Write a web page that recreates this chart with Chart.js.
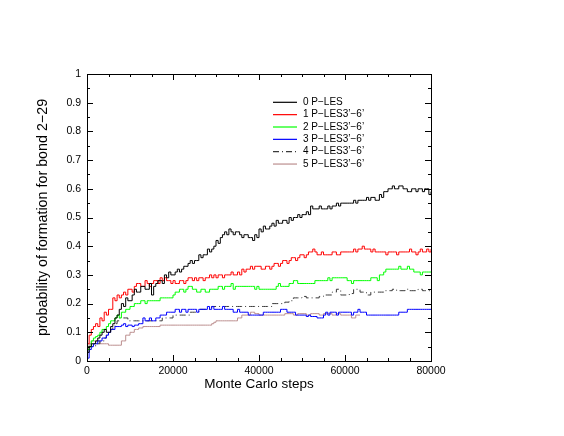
<!DOCTYPE html>
<html>
<head>
<meta charset="utf-8">
<script src="https://cdn.jsdelivr.net/npm/chart.js@4.4.1/dist/chart.umd.min.js"></script>
<style>
  html, body { margin: 0; padding: 0; background: #fff; }
  #wrap { width: 564px; height: 436px; }
</style>
</head>
<body>
<div id="wrap"><canvas id="c" width="564" height="436"></canvas></div>
<script>
const steps = [
  0,500,1000,1500,2000,2500,3000,3500,4000,4500,5000,5500,6000,6500,7000,7500,8000,8500,9000,9500,
  10000,10500,11000,11500,12000,12500,13000,13500,14000,14500,15000,15500,16000,16500,17000,17500,18000,18500,19000,19500,
  20000,20500,21000,21500,22000,22500,23000,23500,24000,24500,25000,25500,26000,26500,27000,27500,28000,28500,29000,29500,
  30000,30500,31000,31500,32000,32500,33000,33500,34000,34500,35000,35500,36000,36500,37000,37500,38000,38500,39000,39500,
  40000,40500,41000,41500,42000,42500,43000,43500,44000,44500,45000,45500,46000,46500,47000,47500,48000,48500,49000,49500,
  50000,50500,51000,51500,52000,52500,53000,53500,54000,54500,55000,55500,56000,56500,57000,57500,58000,58500,59000,59500,
  60000,60500,61000,61500,62000,62500,63000,63500,64000,64500,65000,65500,66000,66500,67000,67500,68000,68500,69000,69500,
  70000,70500,71000,71500,72000,72500,73000,73500,74000,74500,75000,75500,76000,76500,77000,77500,78000,78500,79000,79500,
  80000];

const seriesLabels = ["0 P\u2212LES", "1 P\u2212LES3\u2019\u22126\u2019", "2 P\u2212LES3\u2019\u22126\u2019",
  "3 P\u2212LES3\u2019\u22126\u2019", "4 P\u2212LES3\u2019\u22126\u2019", "5 P\u2212LES3\u2019\u22126\u2019"];

const s0 = [
  0.03,0.05,0.06,0.06,0.07,0.08,0.09,0.10,0.11,0.10,0.10,0.12,0.13,0.15,0.16,0.18,0.20,0.19,0.22,0.21,
  0.21,0.23,0.25,0.24,0.24,0.26,0.26,0.25,0.25,0.27,0.23,0.26,0.27,0.28,0.28,0.27,0.30,0.29,0.31,0.30,
  0.30,0.31,0.32,0.31,0.32,0.33,0.33,0.34,0.35,0.34,0.35,0.35,0.37,0.36,0.37,0.37,0.39,0.38,0.39,0.40,
  0.42,0.41,0.43,0.44,0.45,0.44,0.46,0.45,0.44,0.45,0.45,0.44,0.43,0.44,0.44,0.43,0.43,0.42,0.44,0.43,
  0.46,0.45,0.47,0.46,0.46,0.47,0.48,0.47,0.49,0.48,0.48,0.49,0.49,0.48,0.50,0.49,0.50,0.50,0.51,0.50,
  0.51,0.51,0.52,0.51,0.54,0.53,0.53,0.53,0.54,0.53,0.53,0.53,0.54,0.53,0.54,0.54,0.55,0.54,0.55,0.55,
  0.55,0.55,0.55,0.55,0.56,0.55,0.56,0.56,0.56,0.56,0.57,0.56,0.57,0.57,0.56,0.56,0.58,0.57,0.59,0.59,
  0.60,0.60,0.61,0.60,0.60,0.61,0.61,0.60,0.60,0.59,0.59,0.60,0.60,0.59,0.60,0.60,0.59,0.60,0.60,0.58,
  0.59];
const s1 = [
  0.06,0.09,0.11,0.12,0.13,0.12,0.15,0.14,0.17,0.16,0.18,0.18,0.22,0.21,0.23,0.22,0.23,0.24,0.23,0.25,
  0.25,0.24,0.26,0.27,0.27,0.26,0.26,0.28,0.27,0.26,0.27,0.28,0.28,0.27,0.29,0.28,0.29,0.28,0.28,0.27,
  0.28,0.27,0.27,0.28,0.28,0.27,0.28,0.29,0.29,0.28,0.29,0.28,0.29,0.29,0.28,0.29,0.29,0.30,0.29,0.30,
  0.29,0.30,0.30,0.29,0.30,0.30,0.30,0.31,0.30,0.30,0.31,0.30,0.32,0.31,0.32,0.32,0.33,0.32,0.33,0.33,
  0.33,0.32,0.32,0.33,0.33,0.32,0.33,0.34,0.34,0.33,0.34,0.35,0.35,0.34,0.35,0.36,0.36,0.35,0.36,0.37,
  0.37,0.36,0.37,0.38,0.38,0.39,0.38,0.37,0.37,0.38,0.37,0.37,0.37,0.37,0.38,0.38,0.37,0.37,0.38,0.38,
  0.38,0.38,0.38,0.38,0.39,0.38,0.39,0.39,0.40,0.39,0.39,0.39,0.38,0.39,0.38,0.38,0.38,0.38,0.38,0.37,
  0.38,0.38,0.38,0.38,0.37,0.38,0.38,0.38,0.38,0.38,0.39,0.38,0.38,0.37,0.38,0.39,0.38,0.38,0.39,0.38,
  0.39];
const s2 = [
  0.04,0.05,0.07,0.08,0.085,0.09,0.10,0.11,0.11,0.12,0.13,0.14,0.14,0.15,0.16,0.15,0.17,0.17,0.18,0.18,
  0.19,0.19,0.20,0.20,0.20,0.21,0.21,0.20,0.21,0.21,0.21,0.21,0.21,0.21,0.22,0.22,0.22,0.22,0.22,0.22,
  0.23,0.24,0.24,0.25,0.25,0.24,0.25,0.26,0.26,0.25,0.25,0.24,0.24,0.25,0.25,0.24,0.24,0.25,0.25,0.25,
  0.25,0.26,0.26,0.25,0.26,0.26,0.26,0.27,0.25,0.26,0.26,0.26,0.26,0.26,0.26,0.26,0.26,0.26,0.25,0.26,
  0.25,0.25,0.25,0.25,0.25,0.25,0.25,0.25,0.26,0.27,0.26,0.26,0.26,0.26,0.27,0.27,0.28,0.28,0.27,0.27,
  0.27,0.27,0.27,0.27,0.27,0.27,0.28,0.28,0.28,0.28,0.28,0.28,0.29,0.28,0.29,0.29,0.29,0.29,0.29,0.29,
  0.29,0.28,0.28,0.27,0.28,0.28,0.28,0.28,0.28,0.28,0.28,0.28,0.29,0.29,0.29,0.28,0.30,0.30,0.31,0.32,
  0.32,0.32,0.32,0.32,0.32,0.33,0.32,0.32,0.32,0.33,0.32,0.32,0.31,0.31,0.31,0.30,0.31,0.31,0.31,0.31,
  0.31];
const s3 = [
  0.01,0.04,0.05,0.06,0.06,0.07,0.07,0.08,0.08,0.09,0.10,0.11,0.11,0.12,0.12,0.12,0.125,0.13,0.12,0.125,
  0.125,0.12,0.125,0.125,0.13,0.13,0.15,0.14,0.14,0.15,0.14,0.14,0.15,0.15,0.16,0.16,0.16,0.17,0.17,0.17,
  0.17,0.18,0.18,0.17,0.18,0.18,0.17,0.18,0.18,0.18,0.18,0.17,0.18,0.18,0.18,0.18,0.19,0.18,0.19,0.18,
  0.18,0.18,0.18,0.19,0.18,0.18,0.18,0.18,0.17,0.17,0.18,0.17,0.17,0.17,0.17,0.16,0.16,0.16,0.16,0.16,
  0.16,0.16,0.17,0.17,0.17,0.17,0.17,0.17,0.17,0.17,0.18,0.18,0.18,0.17,0.17,0.17,0.17,0.16,0.16,0.16,
  0.16,0.16,0.155,0.16,0.155,0.155,0.155,0.15,0.15,0.15,0.16,0.17,0.16,0.17,0.17,0.17,0.16,0.17,0.17,0.17,
  0.17,0.17,0.17,0.16,0.17,0.17,0.18,0.17,0.17,0.17,0.16,0.16,0.16,0.16,0.16,0.16,0.16,0.16,0.16,0.16,
  0.16,0.16,0.16,0.16,0.16,0.17,0.17,0.17,0.17,0.18,0.18,0.18,0.18,0.18,0.18,0.18,0.18,0.18,0.18,0.18,
  0.18];
const s4 = [
  0.05,0.05,0.05,0.05,0.06,0.06,0.07,0.07,0.08,0.09,0.10,0.11,0.12,0.13,0.14,0.15,0.15,0.15,0.15,0.14,
  0.14,0.14,0.14,0.14,0.14,0.14,0.14,0.14,0.14,0.14,0.14,0.14,0.14,0.14,0.14,0.15,0.15,0.15,0.15,0.15,
  0.16,0.16,0.16,0.16,0.16,0.16,0.16,0.16,0.17,0.17,0.17,0.17,0.18,0.18,0.18,0.18,0.18,0.18,0.19,0.19,
  0.19,0.19,0.19,0.19,0.19,0.19,0.19,0.19,0.19,0.19,0.19,0.19,0.19,0.19,0.19,0.19,0.19,0.19,0.19,0.19,
  0.19,0.19,0.19,0.19,0.19,0.19,0.20,0.20,0.20,0.20,0.20,0.20,0.205,0.205,0.21,0.21,0.22,0.22,0.22,0.22,
  0.225,0.225,0.22,0.22,0.22,0.22,0.22,0.22,0.225,0.225,0.23,0.23,0.23,0.23,0.24,0.24,0.25,0.25,0.23,0.23,
  0.23,0.23,0.235,0.235,0.25,0.25,0.25,0.24,0.24,0.24,0.23,0.23,0.24,0.24,0.24,0.24,0.24,0.24,0.245,0.245,
  0.245,0.245,0.25,0.25,0.245,0.245,0.245,0.245,0.25,0.25,0.245,0.245,0.245,0.245,0.25,0.25,0.245,0.245,0.245,0.245,
  0.245];
const s5 = [
  0.05,0.06,0.07,0.07,0.07,0.07,0.06,0.06,0.06,0.06,0.055,0.055,0.055,0.055,0.055,0.055,0.07,0.07,0.09,0.09,
  0.10,0.10,0.11,0.11,0.115,0.115,0.12,0.12,0.12,0.12,0.12,0.12,0.12,0.12,0.125,0.125,0.125,0.125,0.125,0.125,
  0.125,0.125,0.125,0.125,0.125,0.125,0.125,0.125,0.125,0.125,0.125,0.125,0.125,0.125,0.125,0.125,0.125,0.125,0.13,0.135,
  0.14,0.14,0.14,0.14,0.14,0.14,0.14,0.14,0.14,0.14,0.15,0.15,0.16,0.16,0.16,0.16,0.17,0.17,0.165,0.165,
  0.16,0.16,0.16,0.16,0.16,0.16,0.16,0.16,0.16,0.16,0.16,0.16,0.165,0.165,0.165,0.165,0.16,0.16,0.165,0.165,
  0.165,0.165,0.16,0.16,0.165,0.165,0.165,0.165,0.16,0.16,0.165,0.165,0.165,0.165,0.16,0.16,0.165,0.165,0.16,0.16,
  0.16,0.16,0.16,0.15,0.15,0.16,0.16,0.16];

const xTickValues = [0, 20000, 40000, 60000, 80000];
const yTickValues = [0, 0.1, 0.2, 0.3, 0.4, 0.5, 0.6, 0.7, 0.8, 0.9, 1];

const FONT = "'Liberation Sans', Arial, Helvetica, sans-serif";

function pts(vals) { return vals.map((v, i) => ({ x: steps[i], y: v })); }

const styles = [
  { color: '#000000', dash: [] },
  { color: '#ff0000', dash: [] },
  { color: '#00ff00', dash: [] },
  { color: '#0000ff', dash: [] },
  { color: '#3a3a3a', dash: [6, 3, 1, 3] },
  { color: '#bc8f8f', dash: [] }
];
const allSeries = [s0, s1, s2, s3, s4, s5];

const datasets = allSeries.map((vals, i) => ({
  label: seriesLabels[i],
  data: pts(vals),
  borderColor: styles[i].color,
  borderDash: styles[i].dash,
  borderWidth: 1,
  pointRadius: 0,
  stepped: true,
  fill: false,
  spanGaps: false
}));

const frameTicks = {
  id: 'frameTicks',
  afterDatasetsDraw(chart) {
    const { ctx, chartArea: a, scales: { x, y } } = chart;
    ctx.save();
    ctx.strokeStyle = '#000';
    ctx.lineWidth = 1;
    ctx.setLineDash([]);
    ctx.strokeRect(a.left + 0.5, a.top + 0.5, a.right - a.left, a.bottom - a.top);
    ctx.beginPath();
    for (let v = 0; v <= 80000; v += 5000) {
      const px = Math.round(x.getPixelForValue(v)) + 0.5;
      const len = (v % 20000 === 0) ? 6 : 3;
      ctx.moveTo(px, a.bottom); ctx.lineTo(px, a.bottom - len);
      ctx.moveTo(px, a.top); ctx.lineTo(px, a.top + len);
    }
    for (let i = 0; i <= 20; i++) {
      const py = Math.round(y.getPixelForValue(i * 0.05)) + 0.5;
      const len = (i % 2 === 0) ? 6 : 3;
      ctx.moveTo(a.left, py); ctx.lineTo(a.left + len, py);
      ctx.moveTo(a.right, py); ctx.lineTo(a.right - len, py);
    }
    ctx.stroke();
    ctx.restore();
  }
};

const legendBox = {
  id: 'legendBox',
  afterDraw(chart) {
    const { ctx } = chart;
    ctx.save();
    ctx.font = '10px ' + FONT;
    ctx.textBaseline = 'middle';
    ctx.textAlign = 'left';
    seriesLabels.forEach((label, i) => {
      const yy = 102.3 + i * 12.35;
      ctx.strokeStyle = styles[i].color;
      ctx.lineWidth = 1.2;
      ctx.setLineDash(styles[i].dash);
      ctx.beginPath();
      ctx.moveTo(273, yy); ctx.lineTo(297, yy);
      ctx.stroke();
      ctx.setLineDash([]);
      ctx.fillStyle = '#000';
      ctx.fillText(label, 303, yy);
    });
    ctx.restore();
  }
};

new Chart(document.getElementById('c'), {
  type: 'line',
  data: { datasets },
  plugins: [frameTicks, legendBox],
  options: {
    responsive: false,
    animation: false,
    events: [],
    layout: { padding: { top: 74, right: 133, bottom: 0, left: 0 } },
    plugins: { legend: { display: false }, tooltip: { enabled: false } },
    scales: {
      x: {
        type: 'linear',
        min: 0, max: 80000,
        afterFit(s) { s.height = 75; },
        afterBuildTicks(s) { s.ticks = xTickValues.map(v => ({ value: v })); },
        grid: { display: false, drawTicks: false },
        border: { display: false },
        ticks: {
          padding: 4, maxRotation: 0, autoSkip: false,
          color: '#000', font: { family: FONT, size: 10.5 },
          callback: v => String(v)
        },
        title: {
          display: true, text: 'Monte Carlo steps', color: '#000',
          font: { family: FONT, size: 13.5 }, padding: { top: 0, bottom: 44 }
        }
      },
      y: {
        type: 'linear',
        min: 0, max: 1,
        afterFit(s) { s.width = 87; },
        afterBuildTicks(s) { s.ticks = yTickValues.map(v => ({ value: v })); },
        grid: { display: false, drawTicks: false },
        border: { display: false },
        ticks: {
          padding: 6, autoSkip: false,
          color: '#000', font: { family: FONT, size: 10.5 },
          callback: v => String(Math.round(v * 10) / 10)
        },
        title: {
          display: true, text: 'probability of formation for bond 2\u221229', color: '#000',
          font: { family: FONT, size: 14.3 }, padding: { top: 34.5, bottom: 0 }
        }
      }
    }
  }
});
</script>
</body>
</html>
